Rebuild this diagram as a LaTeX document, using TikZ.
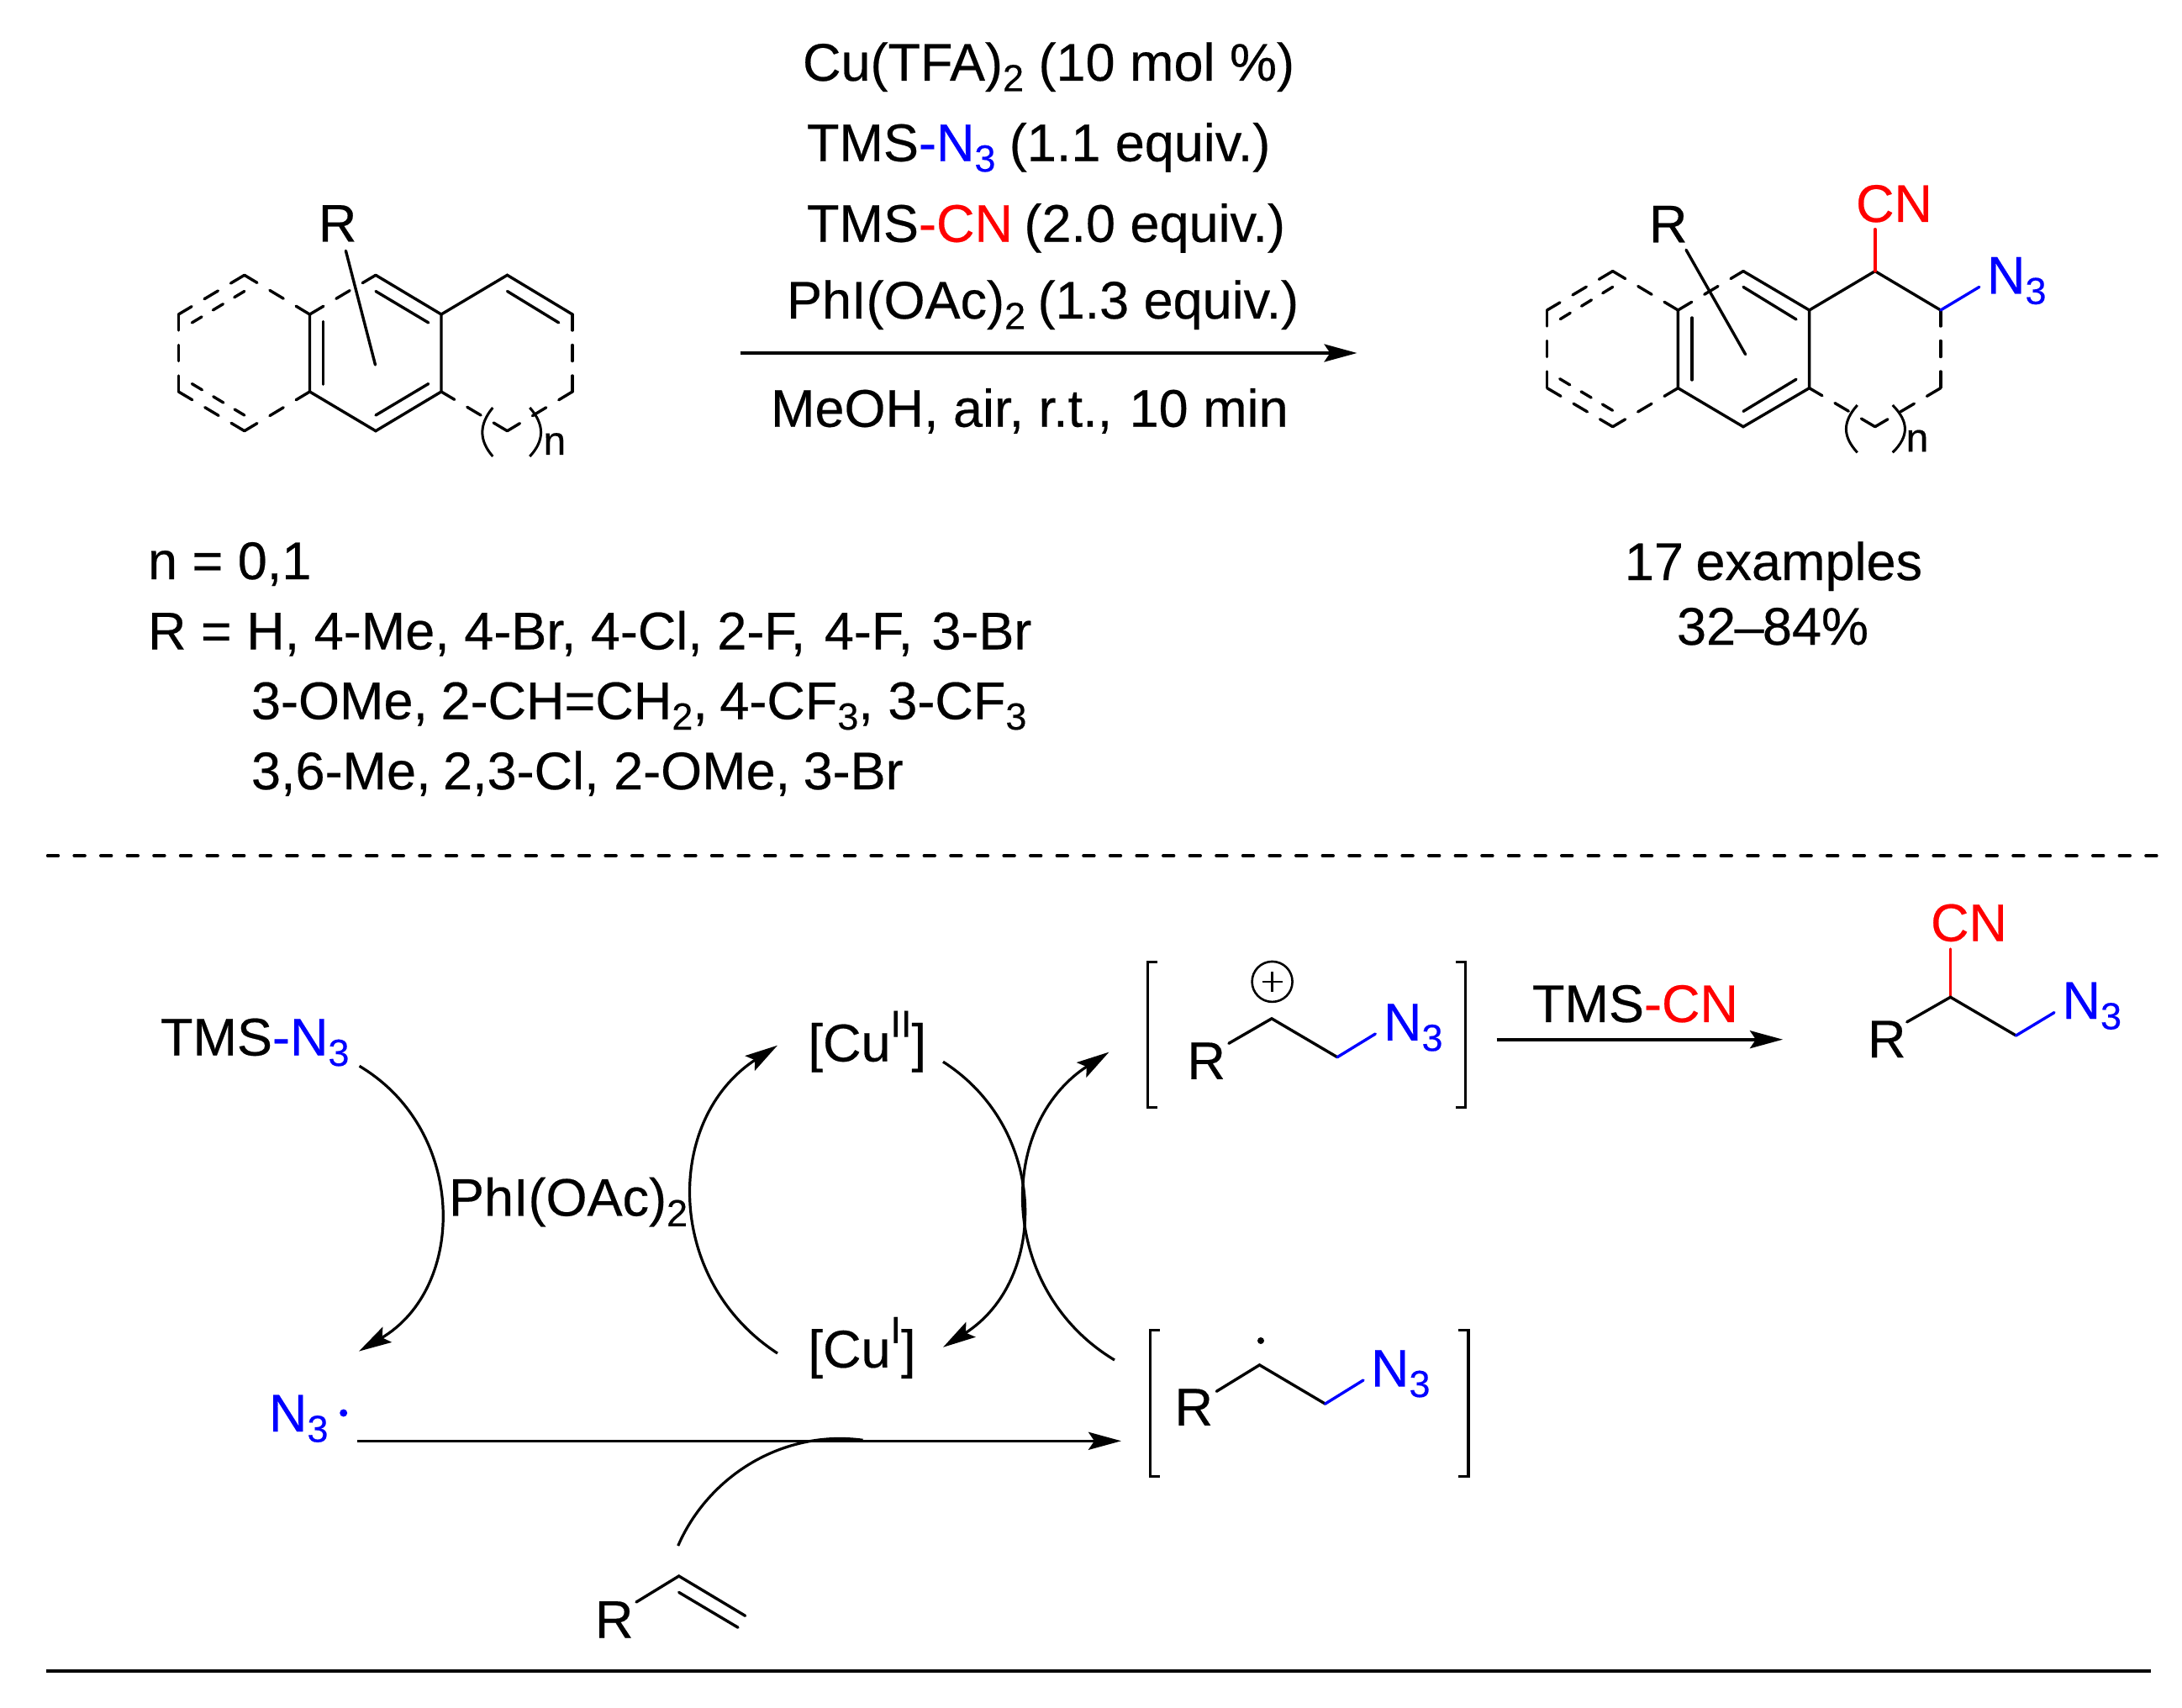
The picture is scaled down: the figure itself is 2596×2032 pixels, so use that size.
\documentclass[tikz,border=0pt]{standalone}
\usepackage{fontspec}
\setmainfont{Liberation Sans}[FakeBold=0.35]
\usetikzlibrary{arrows.meta}
\definecolor{nblue}{RGB}{0,0,255}
\definecolor{cred}{RGB}{255,0,0}
\newcommand{\lowfig}[1]{\raisebox{-6.25pt}{\fontsize{22.5pt}{22.5pt}\selectfont #1}}
\newcommand{\highfig}[1]{\raisebox{14.5pt}{\fontsize{22.5pt}{22.5pt}\selectfont #1}}
\tikzset{
  lbl/.style={inner sep=0pt,outer sep=0pt,anchor=base west,font=\fontsize{31.5pt}{31.5pt}\selectfont},
  lblc/.style={lbl,anchor=base},
  smalllbl/.style={inner sep=0pt,outer sep=0pt,anchor=base west,font=\fontsize{24pt}{24pt}\selectfont},
  bond/.style={line width=1.7pt,line cap=round,line join=miter},
  dbond/.style={bond,dash pattern=on 9.5pt off 8.75pt},
  ibond/.style={bond,dash pattern=on 7pt off 7.8pt},
  paren/.style={line width=1.5pt},
  arrowline/.style={line width=1.8pt,-{Stealth[length=19.5pt,width=10.5pt,inset=3.5pt]}},
  curve/.style={line width=1.6pt,-{Stealth[length=19.5pt,width=10.5pt,inset=3.5pt]}},
  plaincurve/.style={line width=1.6pt},
  bracket/.style={line width=1.7pt,line join=miter},
}
\begin{document}
\begin{tikzpicture}[x=0.5pt,y=-0.5pt]
\path[fill=white] (0,0) rectangle (2596,2032);
\useasboundingbox (0,0) rectangle (2596,2032);

% ---------- substrate ----------
\foreach \n/\x/\y in {a1/290.8/327.3,a2/212.4/374,a3/212.4/466,a4/290.8/512.7,a5/368.5/466,a6/368.5/374,
  b1/447/327.3,b2/525/374,b3/525/466,b4/447/512.7,
  c1/603.5/327.3,c2/681/374,c3/681/466,c4/603.5/512.7}
  \coordinate (\n) at (\x,\y);
\foreach \p/\q in {a6/a1,a1/a2,a2/a3,a3/a4,a5/a4,a6/b1,c2/c3,c3/c4,c4/b3}
  \draw[dbond] (\p) -- (\q);
\draw[bond] (b1) -- (b2) -- (b3) -- (b4) -- (a5) -- (a6);
\draw[bond] (b2) -- (c1) -- (c2);
\draw[bond] (384.2,382.5) -- (384.2,457.3);
\draw[bond] (447,346.5) -- (509.7,383.9);
\draw[bond] (447,494) -- (509.7,456.6);
\draw[bond] (603.5,346.5) -- (664.7,383.9);
\draw[ibond] (290.8,346.5) -- (228.4,383.9);
\draw[ibond] (228.4,456.6) -- (290.8,494);
\node[lbl] (subR) at (378.9,287.5) {R};
\draw[bond] (411.4,298.3) -- (446.5,434);
\draw[paren] (586.3,485) .. controls (569.7,505) and (569.7,524) .. (586.3,543);
\draw[paren] (630.3,485) .. controls (648,505) and (648,524) .. (630.3,543);
\node[smalllbl] (subn) at (646.5,541) {n};

% ---------- conditions ----------
\node[lbl] (cond1) at (955,96) {Cu(TFA)\lowfig{2} (10 mol \%)};
\node[lbl] (cond2) at (960,191.7) {TMS\textcolor{nblue}{-N\lowfig{3}}\hspace{-0.6pt} (1.1 equiv.)};
\node[lbl] (cond3) at (960,287.7) {TMS\textcolor{cred}{-CN}\hspace{-2pt} (2.0 equiv.)};
\node[lbl] (cond4) at (936,379) {PhI(OAc)\lowfig{2}\hspace{-1.5pt} (1.3 equiv.)};
\node[lbl] (cond5) at (917,507.7) {MeOH, air, r.t.,\hspace{1.5pt} 10 min};
\coordinate (mainS) at (880.5,420);
\coordinate (mainE) at (1614.5,420);
\draw[arrowline] (mainS) -- (mainE);

% ---------- product ----------
\foreach \n/\x/\y in {d1/1918.7/322.6,d2/1840.6/369,d3/1840.6/461.7,d4/1918.7/507.7,d5/1996.4/461.7,d6/1996.4/369,
  e1/2074/322.6,e2/2152.6/369,e3/2152.6/461.7,e4/2074/507.7,
  f1/2230.8/322.6,f2/2308.8/369,f3/2308.8/461.7,f4/2230.8/507.7}
  \coordinate (\n) at (\x,\y);
\foreach \p/\q in {d6/d1,d1/d2,d2/d3,d3/d4,d5/d4,d6/e1,f2/f3,f3/f4,f4/e3}
  \draw[dbond] (\p) -- (\q);
\draw[bond] (e1) -- (e2) -- (e3) -- (e4) -- (d5) -- (d6);
\draw[bond] (e2) -- (f1) -- (f2);
\draw[bond] (2013,378) -- (2013,452);
\draw[bond] (2074,341.4) -- (2137,380);
\draw[bond] (2074,489.4) -- (2137,451.3);
\draw[ibond] (1918.7,341.4) -- (1855.7,380);
\draw[ibond] (1855.7,450.7) -- (1918.7,488.4);
\node[lbl] (prodR) at (1962,288.3) {R};
\draw[bond] (2006,297.3) -- (2076.6,421.6);
\node[lbl,text=cred] (prodCN) at (2208,264) {CN};
\draw[bond,cred] (f1) -- (2230.8,272.7);
\node[lbl,text=nblue] (prodN) at (2364,349.3) {N\lowfig{3}};
\draw[bond,nblue] (f2) -- (2354.8,341.4);
\draw[paren] (2209.7,482) .. controls (2192,502) and (2192,519) .. (2209.7,538.4);
\draw[paren] (2251.7,482) .. controls (2271.3,502) and (2271.3,519) .. (2251.7,538.4);
\node[smalllbl] (prodn) at (2267.6,537.4) {n};

% ---------- scope text ----------
\node[lbl] (t1) at (176,689) {n = 0,1};
\node[lbl] (t2) at (176,772.5) {R = H, 4-Me, 4-Br, 4-Cl, 2-F,\hspace{2.5pt} 4-F,\hspace{2.5pt} 3-Br};
\node[lbl] (t3) at (299,855.5) {3-OMe,\hspace{-1pt} 2-CH=CH\lowfig{2},\hspace{-1.5pt} 4-CF\lowfig{3}, 3-CF\lowfig{3}};
\node[lbl] (t4) at (299,939) {3,6-Me,\hspace{-1.5pt} 2,3-Cl, 2-OMe,\hspace{-1pt} 3-Br};
\node[lblc] (ex) at (2110,690) {17\hspace{-1.5pt} examples};
\node[lblc] (yield) at (2109,767) {32\hspace{-0.8pt}–\hspace{-0.8pt}84\%};

% ---------- separators ----------
\coordinate (sepL) at (56.7,1018);
\coordinate (sepR) at (2567,1018);
\draw[line width=1.9pt,line cap=round,dash pattern=on 6.3pt off 9.5pt] (sepL) -- (sepR);
\coordinate (botL) at (55,1988);
\coordinate (botR) at (2559,1988);
\draw[line width=1.8pt] (botL) -- (botR);

% ---------- mechanism ----------
\node[lbl] (tmsn) at (191,1255.6) {TMS\textcolor{nblue}{-N\lowfig{3}}};
\node[lbl] (phi) at (534,1446.4) {PhI(OAc)\lowfig{2}};
\node[lbl] (cu2) at (961.5,1262.6) {[Cu\highfig{II}]};
\node[lbl] (cu1) at (961.5,1626.8) {[Cu\highfig{I}]};
\node[lbl,text=nblue] (n3r) at (320,1703) {N\lowfig{3}};
\fill[nblue] (408.7,1681) circle[radius=4.5];

\coordinate (a1s) at (427.6,1268.3);
\coordinate (a1e) at (427,1607.6);
\draw[curve] (a1s) to[bend left=59.4,looseness=1.124] (a1e);
\coordinate (a2s) at (925,1610);
\coordinate (a2e) at (925,1243.7);
\draw[curve] (a2s) to[bend left=57,looseness=1.124] (a2e);
\coordinate (a3s) at (1122,1263.2);
\coordinate (a3e) at (1122,1602.8);
\draw[curve] (a3s) to[bend left=57.5,looseness=1.124] (a3e);
\coordinate (a4s) at (1326,1618);
\coordinate (a4e) at (1319.5,1251.6);
\draw[curve] (a4s) to[bend left=58,looseness=1.124] (a4e);
\coordinate (a5s) at (424.6,1714.3);
\coordinate (a5e) at (1334,1714.3);
\draw[arrowline] (a5s) -- (a5e);
\coordinate (a6s) at (806.7,1839);
\coordinate (a6e) at (1026.6,1713.3);
\draw[plaincurve] (a6s) .. controls (842.5,1756.5) and (930.7,1700.4) .. (a6e);

% alkene
\node[lbl] (alkR) at (708,1948.5) {R};
\draw[bond] (757,1906) -- (807.7,1875) -- (886.6,1922.3);
\draw[bond] (807.7,1894.4) -- (878,1936.2);

% cation
\draw[bracket] (1376.6,1144.5) -- (1365.4,1144.5) -- (1365.4,1317.7) -- (1376.6,1317.7);
\draw[bracket] (1732,1144.5) -- (1743.3,1144.5) -- (1743.3,1317.7) -- (1732,1317.7);
\node[lbl] (catR) at (1412.4,1283.8) {R};
\draw[bond] (1461.9,1241.3) -- (1513,1211.8) -- (1591,1257.7);
\draw[bond,nblue] (1591,1257.7) -- (1636.3,1230);
\node[lbl,text=nblue] (catN) at (1646,1237.8) {N\lowfig{3}};
\node[circle,draw,line width=1.3pt,minimum size=24pt,inner sep=0pt] (plus) at (1513.6,1167.9) {};
\draw[line width=1.3pt] (1501.6,1167.9) -- (1525.6,1167.9);
\draw[line width=1.3pt] (1513.6,1155.9) -- (1513.6,1179.9);

% radical
\draw[bracket] (1379.6,1582.3) -- (1368.7,1582.3) -- (1368.7,1756.5) -- (1379.6,1756.5);
\draw[bracket] (1735.3,1582.3) -- (1746.8,1582.3) -- (1746.8,1756.5) -- (1735.3,1756.5);
\node[lbl] (radR) at (1397.5,1695.8) {R};
\draw[bond] (1447.3,1655.3) -- (1498.5,1623.9) -- (1576.6,1670.1);
\draw[bond,nblue] (1576.6,1670.1) -- (1622,1642);
\node[lbl,text=nblue] (radN) at (1631,1649.6) {N\lowfig{3}};
\fill (1500,1595) circle[radius=4];

% TMS-CN step
\node[lbl] (tmscn) at (1823,1215.9) {TMS\textcolor{cred}{-CN}};
\coordinate (a7s) at (1780.6,1236.7);
\coordinate (a7e) at (2121,1236.7);
\draw[arrowline] (a7s) -- (a7e);

% final product
\node[lbl,text=cred] (finCN) at (2297,1119.6) {CN};
\draw[bond,cred] (2320.5,1129) -- (2320.5,1186.3);
\node[lbl] (finR) at (2222,1258) {R};
\draw[bond] (2268.7,1215.9) -- (2320.5,1186.3) -- (2398.5,1232);
\draw[bond,nblue] (2398.5,1232) -- (2444,1204.6);
\node[lbl,text=nblue] (finN) at (2453.5,1212) {N\lowfig{3}};
\end{tikzpicture}
\end{document}
